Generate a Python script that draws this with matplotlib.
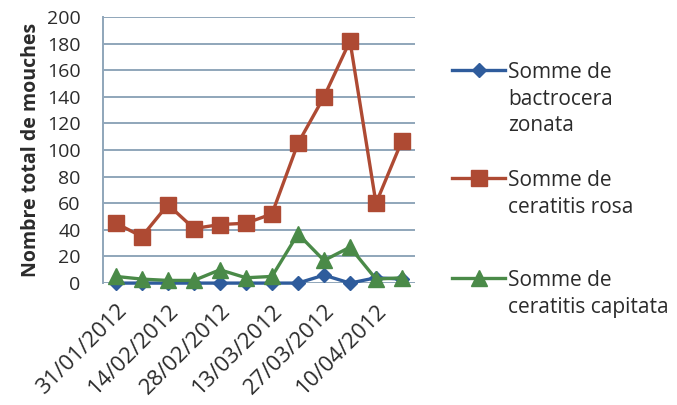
import matplotlib
matplotlib.use("Agg")
import matplotlib.pyplot as plt
from matplotlib.lines import Line2D

# data (weekly counts)
dates = ["31/01/2012", "07/02/2012", "14/02/2012", "21/02/2012", "28/02/2012", "06/03/2012",
         "13/03/2012", "20/03/2012", "27/03/2012", "03/04/2012", "10/04/2012", "17/04/2012"]
bactrocera = [0, 0, 0, 0, 0, 0, 0, 0, 6, 0, 4, 3]
rosa = [45, 35, 59, 41, 44, 45, 52, 105, 140, 182, 60, 107]
capitata = [5, 3, 2, 2, 10, 4, 5, 37, 17, 27, 3, 4]

series_labels = ["Somme de\nbactrocera\nzonata", "Somme de\nceratitis rosa", "Somme de\nceratitis capitata"]
colors = ["#2F5C9C", "#AE4A33", "#4A8A48"]
markers = ["D", "s", "^"]
msizes = [7, 11, 11]

plt.rcParams['font.family'] = ['Open Sans', 'DejaVu Sans']

fig = plt.figure(figsize=(6.77, 4.05), dpi=100)
ax = fig.add_axes([0.152, 0.301, 0.461, 0.657])

x = list(range(len(dates)))
for vals, c, m, ms in zip([bactrocera, rosa, capitata], colors, markers, msizes):
    ax.plot(x, vals, color=c, marker=m, markersize=ms, linewidth=2.4, clip_on=False, zorder=3)

ax.set_xlim(-0.5, len(dates) - 0.5)
ax.set_ylim(0, 200)
ax.set_yticks(range(0, 201, 20))
ax.set_xticks(x[::2])
ax.set_xticklabels(dates[::2], rotation=45, ha='right', rotation_mode='anchor',
                   fontsize=16, color='#2b2b2b')
ax.tick_params(axis='y', labelsize=14, labelcolor='#2b2b2b', length=0, pad=16)
ax.tick_params(axis='x', length=0, pad=12)

ax.grid(axis='y', color='#8FA6BA', linewidth=1.4)
ax.set_axisbelow(True)
for s in ['top', 'right', 'bottom']:
    ax.spines[s].set_visible(False)
ax.spines['left'].set_color('#8FA6BA')
ax.spines['left'].set_linewidth(1.4)

ax.set_ylabel("Nombre total de mouches", fontsize=14, fontweight='bold', color='#2b2b2b', labelpad=4)

# legend, drawn by hand so the handle sits on the first text line
leg_y = [0.827, 0.56, 0.313]
for lab, c, m, ms, yy in zip(series_labels, colors, markers, msizes, leg_y):
    fig.add_artist(Line2D([0.668, 0.746], [yy, yy], color=c, linewidth=2.4, transform=fig.transFigure))
    fig.add_artist(Line2D([0.707], [yy], color=c, marker=m, markersize=ms, transform=fig.transFigure))
    fig.text(0.75, yy + 0.02, lab, fontsize=15, color='#2b2b2b', va='top', ha='left', linespacing=1.35)

fig.savefig("out.png", dpi=100, facecolor='white')
